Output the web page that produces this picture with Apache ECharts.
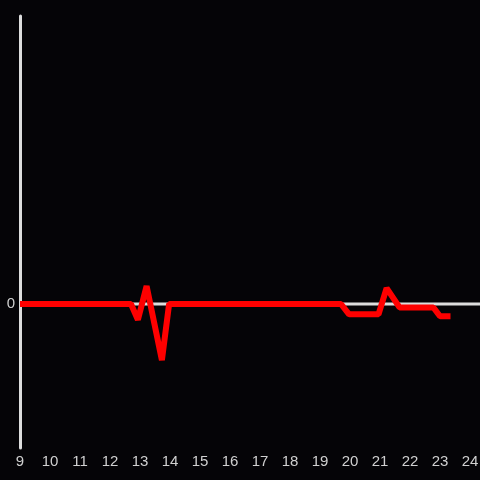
<!DOCTYPE html>
<html>
<head>
<meta charset="utf-8">
<script src="https://cdn.jsdelivr.net/npm/echarts@6/dist/echarts.min.js"></script>
<style>
  html, body { margin: 0; padding: 0; background: #050407; overflow: hidden; }
  #chart { width: 480px; height: 480px; }
</style>
</head>
<body>
<div id="chart"></div>
<script>
// hour of day, value
const hours = [9, 12.7, 12.93, 13.22, 13.73, 13.97, 19.7, 19.97, 20.95, 21.22, 21.65, 22.78, 23.0, 23.35];
const values = [0, 0, -0.11, 0.125, -0.39, 0, 0, -0.072, -0.072, 0.11, -0.024, -0.024, -0.085, -0.085];
const baseHours = [9, 24.4];
const baseValues = [0, 0];

const chart = echarts.init(document.getElementById('chart'), null, { renderer: 'canvas' });

const option = {
  backgroundColor: '#050407',
  animation: false,
  grid: { left: 20, right: 0, top: 16, bottom: 32, outerBoundsMode: 'none', containLabel: false },
  xAxis: {
    type: 'value',
    min: 9,
    max: 24.333,
    interval: 1,
    axisLine: { show: false },
    axisTick: { show: false },
    splitLine: { show: false },
    axisLabel: {
      color: '#d0d0d0',
      fontSize: 15,
      fontFamily: 'Liberation Sans, sans-serif',
      margin: 6,
      formatter: (v) => (Number.isInteger(v) ? String(v) : '')
    }
  },
  yAxis: {
    type: 'value',
    min: -1,
    max: 2,
    interval: 1,
    axisLine: { show: true, lineStyle: { color: '#dddddd', width: 3 } },
    axisTick: { show: false },
    splitLine: { show: false },
    axisLabel: {
      color: '#d0d0d0',
      fontSize: 15,
      fontFamily: 'Liberation Sans, sans-serif',
      margin: 5,
      formatter: (v) => (v === 0 ? '0' : '')
    }
  },
  series: [
    {
      name: 'zero',
      type: 'line',
      z: 1,
      silent: true,
      showSymbol: false,
      clip: true,
      data: baseHours.map((h, i) => [h, baseValues[i]]),
      lineStyle: { color: '#dddddd', width: 3 }
    },
    {
      name: 'value',
      type: 'line',
      z: 3,
      showSymbol: false,
      data: hours.map((h, i) => [h, values[i]]),
      lineStyle: { color: '#ff0000', width: 6, join: 'bevel', cap: 'butt' }
    }
  ]
};

chart.setOption(option);
</script>
</body>
</html>
